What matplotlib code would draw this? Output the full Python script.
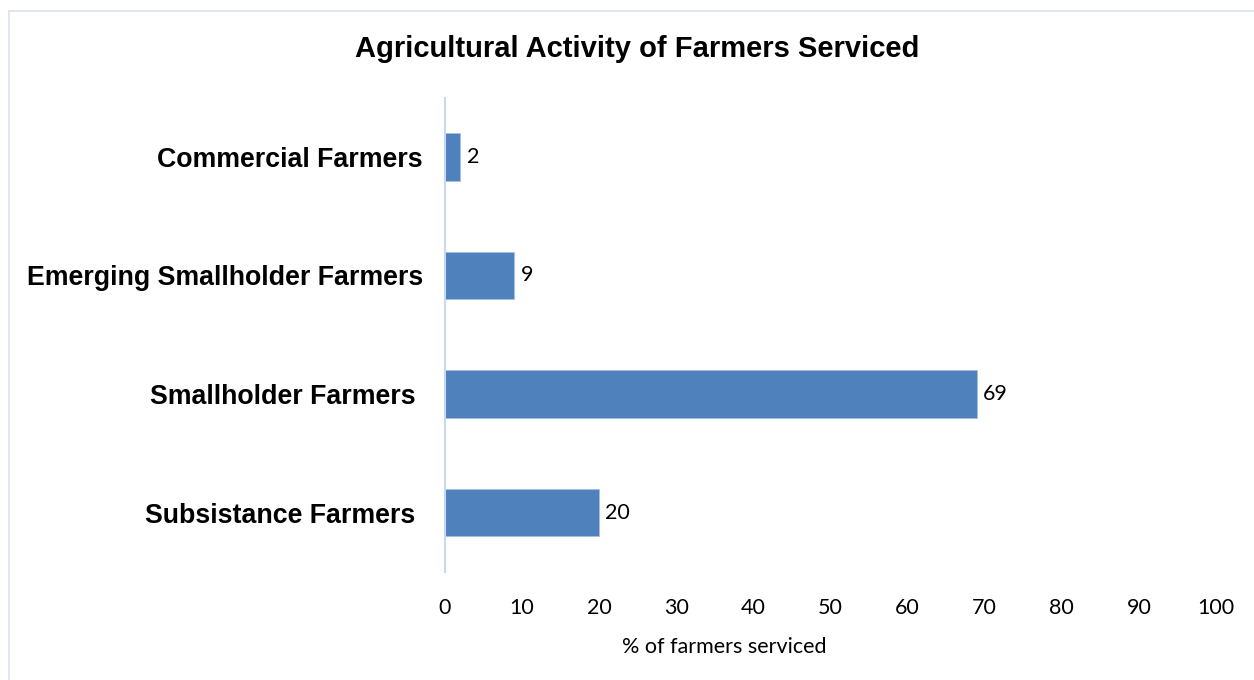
import matplotlib.pyplot as plt
from matplotlib.lines import Line2D

categories = ['Commercial Farmers', 'Emerging Smallholder Farmers',
              'Smallholder Farmers ', 'Subsistance Farmers ']
percent = [2, 9, 69, 20]
xticks = [0, 10, 20, 30, 40, 50, 60, 70, 80, 90, 100]

fig = plt.figure(figsize=(12.54, 6.8), dpi=100)
ax = fig.add_axes([0.3549, 0.1588, 0.6148, 0.6978])

y_pos = range(len(categories))
ax.barh(y_pos, percent, height=0.4, color='#4F81BD', edgecolor='#A7BFDE', linewidth=0.6)
ax.set_ylim(3.5, -0.5)
ax.set_xlim(0, 100)

ax.set_yticks(list(y_pos))
ax.set_yticklabels(categories, fontsize=19.3, fontweight='bold', family='Liberation Sans')
ax.set_xticks(xticks)
ax.set_xticklabels([str(t) for t in xticks], fontsize=15.5, family='Lato')
ax.tick_params(axis='both', length=0)
ax.tick_params(axis='x', pad=19)
ax.tick_params(axis='y', pad=16)

for spine in ['top', 'right', 'bottom']:
    ax.spines[spine].set_visible(False)
ax.spines['left'].set_color('#C6D9F1')
ax.spines['left'].set_linewidth(1.5)

for y, v in zip(y_pos, percent):
    ax.text(v + 0.8, y, str(v), va='center', ha='left', fontsize=15.5, family='Lato')

ax.set_xlabel('% of farmers serviced', fontsize=15.5, family='Lato')
ax.xaxis.set_label_coords(0.362, -0.137)
fig.text(0.508, 0.928, 'Agricultural Activity of Farmers Serviced', ha='center', va='center',
         fontsize=21, fontweight='bold', family='Liberation Sans')

# frame lines along the top and left edge
fig.add_artist(Line2D([0.0068, 1.0], [0.984, 0.984], transform=fig.transFigure,
                      color='#D9E1EE', linewidth=1.2))
fig.add_artist(Line2D([0.0068, 0.0068], [0.0, 0.984], transform=fig.transFigure,
                      color='#D9E1EE', linewidth=1.2))

fig.savefig('out.png', dpi=100)
